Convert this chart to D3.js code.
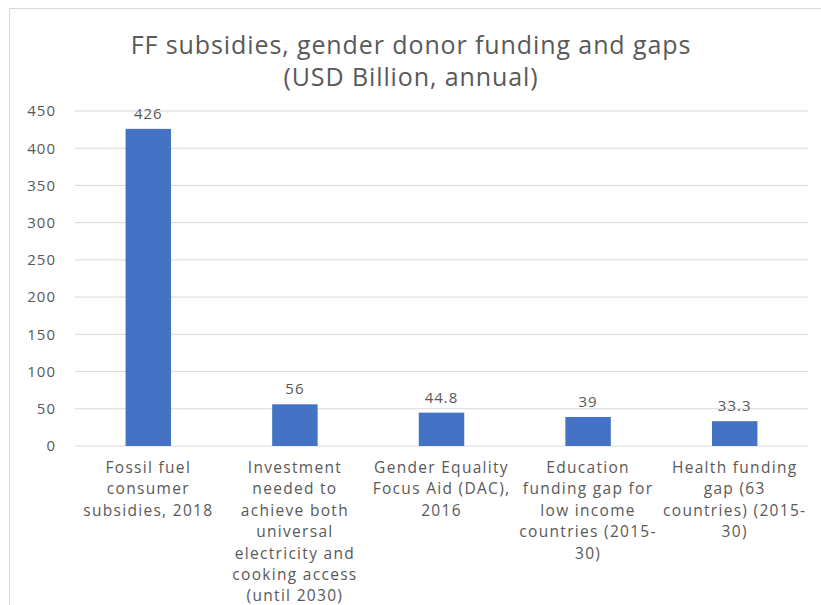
<!DOCTYPE html>
<html>
<head>
<meta charset="utf-8">
<script src="https://cdn.jsdelivr.net/npm/d3@7"></script>
<style>
  body { margin: 0; background: #fff; }
  text { font-family: "Open Sans", Lato, sans-serif; fill: #595959; }
</style>
</head>
<body>
<div id="chart"></div>
<script>
// Chart data
const categories = [
    ["Fossil fuel", "consumer", "subsidies, 2018"],
    ["Investment", "needed to", "achieve both", "universal", "electricity and", "cooking access", "(until 2030)"],
    ["Gender Equality", "Focus Aid (DAC),", "2016"],
    ["Education", "funding gap for", "low income", "countries (2015-", "30)"],
    ["Health funding", "gap (63", "countries) (2015-", "30)"]
];
const values = [426, 56, 44.8, 39, 33.3];
const valueLabels = ["426", "56", "44.8", "39", "33.3"];
const yTicks = [0, 50, 100, 150, 200, 250, 300, 350, 400, 450];
const titleLines = ["FF subsidies, gender donor funding and gaps", "(USD Billion, annual)"];

const W = 821, H = 605;
const margin = {top: 111, right: 13, bottom: 159, left: 75};

const svg = d3.select("#chart")
    .append("svg")
    .attr("width", W)
    .attr("height", H);

// outer chart frame (partially cut off like the screenshot)
svg.append("rect")
    .attr("x", 9.5)
    .attr("y", 8.5)
    .attr("width", W + 20)
    .attr("height", H + 20)
    .attr("fill", "none")
    .attr("stroke", "#d9d9d9");

const g = svg.append("g")
    .attr("transform", `translate(${margin.left},${margin.top})`);

const innerW = W - margin.left - margin.right;
const innerH = 446 - margin.top;

const x = d3.scaleBand()
    .domain(d3.range(values.length))
    .range([0, innerW])
    .paddingInner(0.69)
    .paddingOuter(0.345);

const y = d3.scaleLinear()
    .domain([0, 450])
    .range([innerH, 0]);

// gridlines
g.selectAll(".grid")
    .data(yTicks)
    .enter().append("line")
    .attr("class", "grid")
    .attr("x1", 0)
    .attr("x2", innerW)
    .attr("y1", d => y(d))
    .attr("y2", d => y(d))
    .attr("stroke", "#d9d9d9")
    .attr("stroke-width", 1);

// y axis labels
const yAxis = g.append("g")
    .call(d3.axisLeft(y).tickValues(yTicks).tickSize(0).tickPadding(19));
yAxis.select(".domain").remove();
yAxis.selectAll("text")
    .style("font-size", "15px")
    .style("font-family", "'Open Sans', sans-serif")
    .style("letter-spacing", "1px")
    .attr("fill", "#595959");

// bars
g.selectAll(".bar")
    .data(values)
    .enter().append("rect")
    .attr("class", "bar")
    .attr("x", (d, i) => x(i))
    .attr("y", d => y(d))
    .attr("width", x.bandwidth())
    .attr("height", d => innerH - y(d))
    .attr("fill", "#4472C4");

// value labels
g.selectAll(".val")
    .data(values)
    .enter().append("text")
    .attr("class", "val")
    .attr("x", (d, i) => x(i) + x.bandwidth() / 2)
    .attr("y", d => y(d) - 10)
    .attr("text-anchor", "middle")
    .style("font-size", "15px")
    .style("letter-spacing", "1px")
    .text((d, i) => valueLabels[i]);

// category labels
const catG = g.selectAll(".cat")
    .data(categories)
    .enter().append("text")
    .attr("class", "cat")
    .attr("text-anchor", "middle")
    .attr("transform", (d, i) => `translate(${x(i) + x.bandwidth() / 2},${innerH + 27})`)
    .style("font-size", "15.5px")
    .style("letter-spacing", "1.3px");

catG.selectAll("tspan")
    .data(d => d)
    .enter().append("tspan")
    .attr("x", 0)
    .attr("dy", (d, i) => i === 0 ? 0 : 21.4)
    .text(d => d);

// title
svg.append("text")
    .attr("x", 411)
    .attr("y", 54)
    .attr("text-anchor", "middle")
    .style("font-size", "25px")
    .style("letter-spacing", "0.9px")
    .selectAll("tspan")
    .data(titleLines)
    .enter().append("tspan")
    .attr("x", 411)
    .attr("dy", (d, i) => i === 0 ? 0 : 32)
    .text(d => d);
</script>
</body>
</html>
